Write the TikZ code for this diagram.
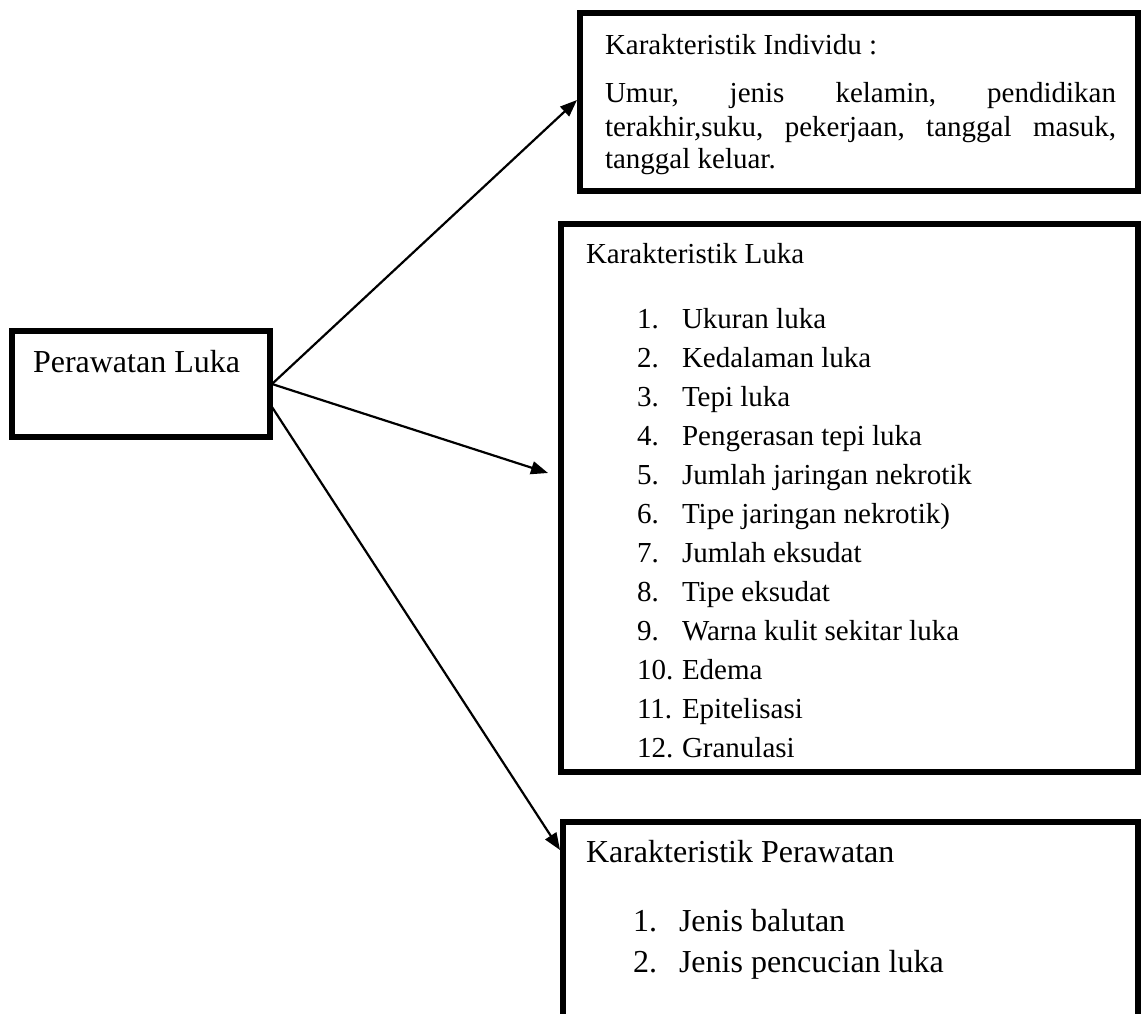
\documentclass[tikz,border=0pt]{standalone}
\usepackage{fontspec}
\setmainfont{Liberation Serif}
\usetikzlibrary{arrows.meta}
\tikzset{
  box/.style={draw, line width=6pt, rectangle, inner sep=0pt, outer sep=0pt, anchor=north west},
  arr/.style={line width=2.2pt, -{Triangle[length=17pt,width=13pt]}},
  txt/.style={inner sep=0pt, outer sep=0pt, anchor=base west},
  fa/.style={txt, font=\fontsize{29}{34}\selectfont},
  fb/.style={txt, font=\fontsize{29}{34}\selectfont},
  fc/.style={txt, font=\fontsize{32}{38}\selectfont},
  fd/.style={txt, font=\fontsize{32}{38}\selectfont},
}
\begin{document}
\begin{tikzpicture}[x=1pt, y=-1pt]
\useasboundingbox (0,0) rectangle (1147,1013);
\clip (0,0) rectangle (1147,1013);
\fill[white] (0,0) rectangle (1147,1013);
% boxes
\node[box, minimum width=258pt, minimum height=106pt] (p) at (12,331) {};
\node[box, minimum width=558pt, minimum height=178pt] (b1) at (580,13) {};
\node[box, minimum width=577pt, minimum height=548pt] (b2) at (561,224) {};
\node[box, minimum width=575pt, minimum height=200pt] (b3) at (563,822) {};
% texts
\node[fc] (pt) at (33,372) {Perawatan Luka};
\node[fa] (i0) at (605,54) {Karakteristik Individu :};
\node[fa] (i1) at (605,102) {\hbox to 511pt{Umur,\hfil jenis\hfil kelamin,\hfil pendidikan}};
\node[fa] (i2) at (605,136) {\hbox to 511pt{terakhir,suku,\hfil pekerjaan,\hfil tanggal\hfil masuk,}};
\node[fa] (i3) at (605,168) {tanggal keluar.};
\node[fb] (l0) at (586,263) {Karakteristik Luka};
\foreach \n/\t [count=\k from 0] in {1./Ukuran luka, 2./Kedalaman luka, 3./Tepi luka, 4./Pengerasan tepi luka, 5./Jumlah jaringan nekrotik, 6./Tipe jaringan nekrotik), 7./Jumlah eksudat, 8./Tipe eksudat, 9./Warna kulit sekitar luka, 10./Edema, 11./Epitelisasi, 12./Granulasi}{
  \node[fb] (ln\k) at (637,328+39*\k) {\n};
  \node[fb] (lt\k) at (682,328+39*\k) {\t};
}
\node[fd] (r0) at (586,862) {Karakteristik Perawatan};
\node[fd] (rn1) at (633,931) {1.};
\node[fd] (rt1) at (679,931) {Jenis balutan};
\node[fd] (rn2) at (633,972) {2.};
\node[fd] (rt2) at (679,972) {Jenis pencucian luka};
% end points
\coordinate (e1) at ([xshift=-3pt,yshift=2pt]b1.west);
\coordinate (e2) at ([xshift=-13pt,yshift=25pt]b2.west);
\coordinate (e3) at ([xshift=-3pt,yshift=-28pt]b3.north west);
% connectors
\draw[arr] ([xshift=2pt]p.east) -- (e1);
\draw[arr] ([xshift=2pt]p.east) -- (e2);
\draw[arr] ([xshift=2pt,yshift=-23pt]p.east) -- (e3);
\end{tikzpicture}
\end{document}
